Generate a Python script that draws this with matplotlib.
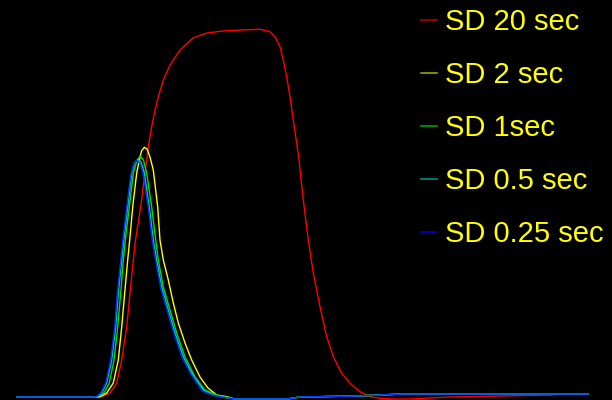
import matplotlib
matplotlib.use("Agg")
import matplotlib.pyplot as plt
from matplotlib.lines import Line2D

# Sample index (s) and signal amplitude (a.u.) for each smoothing window
t_sd20 = [0, 83, 84.7, 93, 99.7, 104.7, 109.7, 113, 116.3, 118.5, 123.7, 127, 129.7,
          131.3, 134.7, 138, 141.3, 146.3, 153, 163, 176, 190, 206, 223, 243, 253,
          258, 263, 266.3, 269.7, 273, 276.3, 279.7, 282, 286.3, 291.3, 296.3, 303,
          309.7, 316.3, 324.7, 333, 343, 353, 363, 376, 393, 433, 483, 535]
a_sd20 = [0, 0, 0.3, 4, 14, 37, 70, 104, 137, 157, 190, 217, 237,
          250.3, 270.3, 287, 300.3, 317, 332, 347, 359, 364, 366, 367, 367.7, 365.3,
          360.3, 350.3, 337, 320.3, 300.3, 277, 253.7, 237, 197, 157, 123.7, 90.3,
          60.3, 40.3, 23.7, 13.7, 5.3, 0.3, -1.3, -2, -2, 0, 1, 2]

t_sd2 = [0, 78, 83, 89.7, 96.3, 101.3, 104.7, 107.7, 110.7, 112.7, 115.7, 119.7, 122,
         124.5, 127.3, 130, 133, 136.3, 140.7, 143, 146.3, 151.3, 156.3, 161.3, 168,
         174.7, 183, 191, 199.7, 209.7, 218, 270, 283, 340, 363, 386, 571]
a_sd2 = [0, 0, 0.3, 4, 14, 37, 70, 104, 137, 157, 190, 224, 235,
         246, 249.7, 248, 240, 227, 190, 157, 137, 117, 94, 74, 54,
         37, 20, 9, 2, 0.3, -2, -2, 0, 1, 2, 3, 3]

t_sd1 = [0, 78, 81, 87, 92.3, 97, 100.7, 103.7, 106.3, 108.3, 112.3, 116.3, 119.5,
         123, 126.5, 129.7, 134.7, 138.7, 141.3, 146.3, 153, 159.7, 168, 178, 188,
         199.7, 208, 218, 270, 283, 340, 363, 386, 571]
a_sd1 = [0, 0, 0.3, 4, 14, 37, 70, 104, 137, 157, 190, 224, 235,
         241, 237, 224, 190, 157, 137, 110, 87, 64, 40, 20, 7,
         2, 0, -2, -2, 0, 1, 2, 3, 3]

t_sd05 = [0, 78, 80, 84.7, 89.7, 94.7, 98.7, 101.3, 104.7, 106.8, 110.7, 114.7, 117.5,
          120.7, 124, 127.3, 132.3, 136.3, 139.7, 144.7, 151.3, 158, 166.3, 174.7,
          186.3, 196.3, 205, 218, 270, 283, 340, 363, 386, 571]
a_sd05 = [0, 0, 0.3, 4, 14, 37, 70, 104, 137, 157, 190, 224, 234,
          237.7, 235, 224, 190, 157, 137, 110, 87, 64, 40, 24,
          7, 2, 0, -2, -2, 0, 1, 2, 3, 3]

t_sd025 = [0, 77, 79, 83.7, 88.7, 93.7, 97.7, 100.3, 103.7, 105.8, 109.7, 113.7, 116.5,
           119.7, 123, 126.3, 131.3, 135.3, 138.7, 143.7, 150.3, 157, 165.3, 173.7,
           185.3, 195.3, 204, 218, 270, 283, 340, 363, 386, 571]
a_sd025 = [0, 0, 0.3, 4, 14, 37, 70, 104, 137, 157, 190, 222, 232,
           236.5, 234, 222, 189, 156, 136, 109, 86, 63, 39, 23,
           6, 2, 0, -2, -2, 0, 1, 2, 3, 3]

labels = ["SD 20 sec", "SD 2 sec", "SD 1sec", "SD 0.5 sec", "SD 0.25 sec"]
line_colors = ["#ff0000", "#ffff00", "#00e000", "#00c8c8", "#0030ff"]
key_colors = ["#b00000", "#a0a000", "#00a000", "#009090", "#0000c0"]

series = [(t_sd20, a_sd20), (t_sd2, a_sd2), (t_sd1, a_sd1),
          (t_sd05, a_sd05), (t_sd025, a_sd025)]

fig = plt.figure(figsize=(6.12, 4.0), dpi=100, facecolor="black")
ax = fig.add_axes([0, 0, 1, 1])
ax.set_facecolor("black")
ax.set_axis_off()

for (t, a), c in zip(series, line_colors):
    ax.plot(t, a, color=c, lw=1.0, solid_joinstyle="round")

ax.set_xlim(-17, 595)
ax.set_ylim(-3, 397)

# Legend keys and labels on the right
W, H = 612.0, 400.0
for i, (lab, kc) in enumerate(zip(labels, key_colors)):
    yk = 19.5 + 53 * i
    fig.add_artist(Line2D([421 / W, 437 / W], [1 - yk / H, 1 - yk / H],
                          color=kc, lw=1.2, transform=fig.transFigure))
    fig.text(445 / W, 1 - (yk + 10.5) / H, lab, color="#ffff00",
             fontsize=21, family="Liberation Sans", va="baseline", ha="left")

fig.savefig("out.png", dpi=100, facecolor="black")
